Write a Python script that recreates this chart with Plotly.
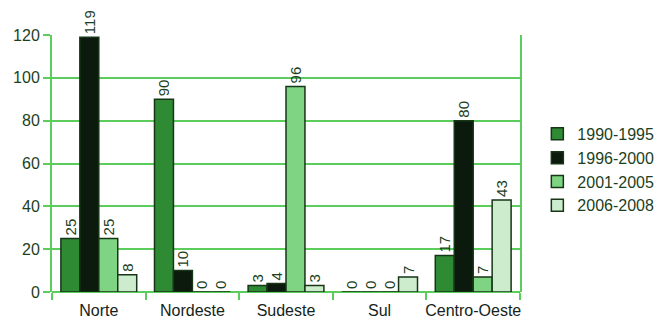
import plotly.graph_objects as go

regions = ["Norte", "Nordeste", "Sudeste", "Sul", "Centro-Oeste"]
periods = ["1990-1995", "1996-2000", "2001-2005", "2006-2008"]
values = {
    "1990-1995": [25, 90, 3, 0, 17],
    "1996-2000": [119, 10, 4, 0, 80],
    "2001-2005": [25, 0, 96, 0, 7],
    "2006-2008": [8, 0, 3, 7, 43],
}
colors = {
    "1990-1995": "#2f8a34",
    "1996-2000": "#0b1a0c",
    "2001-2005": "#7ed483",
    "2006-2008": "#cdeccd",
}

grid_green = "#5ccc5c"
text_green = "#1c3f1e"
font_family = "Liberation Sans, Arial, sans-serif"

fig = go.Figure()
for p in periods:
    fig.add_trace(go.Bar(
        name=p,
        x=regions,
        y=values[p],
        marker=dict(color=colors[p], line=dict(color="#173517", width=1.5)),
        text=[str(v) for v in values[p]],
        textposition="outside",
        textangle=-90,
        constraintext="none",
        textfont=dict(family=font_family, size=15, color=text_green),
        cliponaxis=False,
    ))

fig.update_layout(
    width=670, height=320,
    margin=dict(l=52, r=150, t=35, b=28, autoexpand=False),
    paper_bgcolor="white", plot_bgcolor="white",
    barmode="group", bargap=0.19, bargroupgap=0,
    font=dict(family=font_family, size=16, color="#111111"),
    showlegend=True,
    legend=dict(
        xref="container", x=0.802, xanchor="left",
        y=0.475, yanchor="middle",
        font=dict(family=font_family, size=16, color=text_green),
        itemwidth=30, tracegroupgap=0,
    ),
    xaxis=dict(
        type="category",
        tickson="boundaries",
        tickangle=0, automargin=False,
        ticks="outside", ticklen=7, tickwidth=2, tickcolor=grid_green,
        ticklabelstandoff=7,
        showgrid=False, showline=False, zeroline=False,
        tickfont=dict(family=font_family, size=16, color="#14241a"),
    ),
    yaxis=dict(
        range=[0, 120], dtick=20, automargin=False,
        ticks="outside", ticklen=7, tickwidth=2, tickcolor=grid_green,
        showgrid=True, gridcolor=grid_green, gridwidth=2,
        showline=True, linecolor=grid_green, linewidth=2, mirror=True,
        zeroline=True, zerolinecolor=grid_green, zerolinewidth=2,
        tickfont=dict(family=font_family, size=16, color=text_green),
    ),
)

fig.write_html("out.html")
